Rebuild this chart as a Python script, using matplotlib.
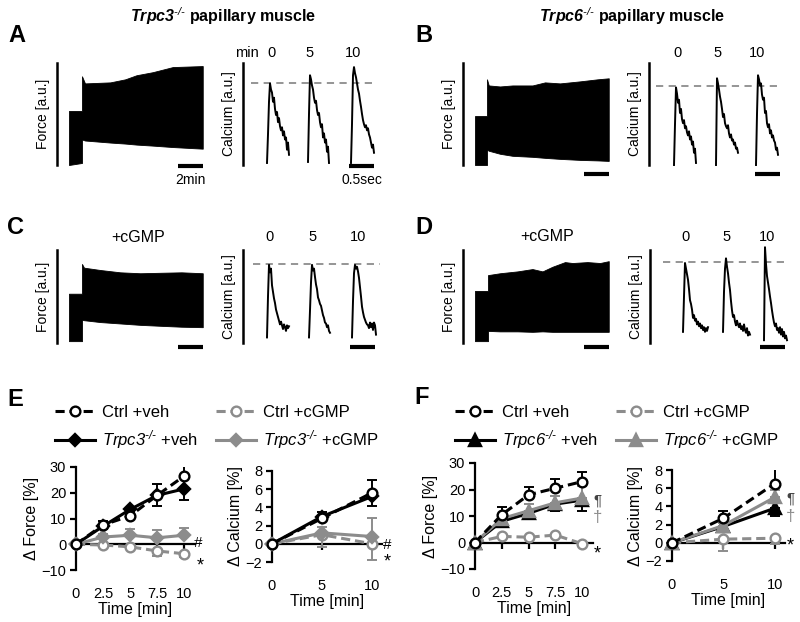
import matplotlib
matplotlib.use("Agg")
import matplotlib.pyplot as plt
import numpy as np

plt.rcParams["font.family"] = ["Liberation Sans", "DejaVu Sans"]
# math text is only used for the italic gene names, so every math font is italic
plt.rcParams["mathtext.fontset"] = "custom"
plt.rcParams["mathtext.rm"] = "Liberation Sans:italic"
plt.rcParams["mathtext.it"] = "Liberation Sans:italic"
plt.rcParams["mathtext.bf"] = "Liberation Sans:italic:bold"
plt.rcParams["mathtext.bfit"] = "Liberation Sans:italic:bold"

W, H = 800, 622
BLACK = "#000000"
GREY = "#8c8c8c"

# ---------------- raw force traces: envelope of twitches (min, % of scale) ----------
force_t_a = [0, 1.04, 1.04, 1.28, 3.3, 4.5, 5.4, 6.7, 8.3, 10.7]
force_hi_a = [53, 53, 87, 80, 81, 84, 88, 91, 96, 97]
force_lo_a = [0, 2, 25, 24, 22, 21, 20, 19, 17.6, 16]

force_t_b = [0, 0.96, 0.96, 1.1, 2.0, 3.0, 4.6, 5.6, 6.8, 8.4, 9.8, 10.7]
force_hi_b = [48, 48, 84, 78, 77, 78, 78, 81, 80, 82, 84, 85]
force_lo_b = [0, 0, 15, 14, 11, 9, 8, 7, 6, 5, 4.5, 4]

force_t_c = [0, 1.04, 1.04, 1.2, 2.5, 4.1, 5.7, 7.3, 9.0, 10.7]
force_hi_c = [53, 53, 85, 81, 78.5, 76, 75, 75.5, 76, 75]
force_lo_c = [2, 2, 25, 24.5, 22.5, 21, 19.5, 18.5, 17.5, 17]

force_t_d = [0, 1.04, 1.04, 2.0, 3.4, 4.6, 5.4, 6.2, 7.2, 7.8, 9.0, 10.0, 10.7]
force_hi_d = [56, 56, 73, 75, 77, 79.5, 77, 82, 87, 86, 87, 86, 88]
force_lo_d = [2, 2, 13, 12.5, 12.5, 12, 12.5, 12, 12, 12, 12, 12, 12]

# ---------------- calcium transients at 0, 5, 10 min (s, % of scale) ----------------
sample_t = [0.00, 0.02, 0.04, 0.06, 0.08, 0.10, 0.12, 0.14, 0.16, 0.18, 0.20, 0.22,
            0.24, 0.26, 0.28, 0.30, 0.32, 0.34, 0.36, 0.38, 0.40, 0.42, 0.44, 0.46,
            0.48, 0.50, 0.52, 0.54]

ca_a = [
    [2, 30, 62, 80, 74, 71, 62, 66, 55, 49, 52, 42, 46, 38, 34, 37, 29, 33, 25, 27, 15, 22, 10],
    [3, 50, 88, 84, 78, 74, 66, 61, 63, 54, 49, 51, 42, 37, 40, 27, 31, 22, 25, 13, 18, 2],
    [2, 40, 88, 96, 90, 86, 80, 74, 70, 63, 57, 50, 44, 40, 37, 39, 34, 36, 30, 27, 22, 17, 20, 12],
]
ca_b = [
    [0, 40, 76, 70, 61, 64, 51, 55, 45, 41, 44, 36, 38, 32, 29, 33, 25, 28, 20, 23, 12, 16, 2],
    [0, 85, 80, 74, 67, 62, 55, 47, 50, 41, 38, 36, 39, 31, 27, 30, 24, 25, 20, 22, 16, 17, 12],
    [0, 50, 88, 84, 78, 80, 69, 64, 66, 51, 53, 41, 37, 40, 31, 34, 27, 29, 24, 22, 15, 17, 10],
]
ca_c = [
    [6, 50, 84, 76, 80, 62, 55, 48, 43, 36, 32, 28, 24, 20, 23, 19, 15, 20, 17, 13, 19, 16, 18],
    [6, 35, 65, 84, 78, 80, 71, 63, 58, 49, 46, 42, 40, 35, 30, 27, 22, 21, 17, 19, 13, 11],
    [6, 45, 75, 84, 80, 82, 77, 70, 60, 50, 39, 33, 28, 25, 22, 20, 19, 16, 22, 17, 21, 14, 22, 19, 9],
]
ca_d = [
    [12, 50, 86, 80, 74, 68, 58, 46, 42, 36, 27, 30, 24, 26, 20, 23, 18, 21, 16, 19, 14, 17, 12, 16, 13, 17],
    [12, 55, 80, 91, 82, 75, 65, 57, 45, 35, 28, 30, 23, 19, 24, 20, 17, 21, 15, 18, 13, 20, 14, 11, 16, 8, 12, 9],
    [3, 103, 85, 72, 65, 58, 50, 43, 35, 28, 22, 18, 21, 14, 16, 11, 17, 9, 15, 7, 12, 5, 8, 3],
]
ca_minutes = ["0", "5", "10"]

# ---------------- summary data (mean, one-sided SEM) ----------------
time_force = [0, 2.5, 5, 7.5, 10]
time_ca = [0, 5, 10]
force_ticks = ["0", "2.5", "5", "7.5", "10"]
ca_ticks = ["0", "5", "10"]

# E: Trpc3
e_force_ctrl_veh = [0, 7.5, 11, 19, 26.5]
e_force_ctrl_veh_err = [0, 1.5, 2, 4.5, 6.5]
e_force_ko_veh = [0, 7, 13.5, 19, 21.5]
e_force_ko_veh_err = [0, 1, 1.5, 4, 4.5]
e_force_ctrl_cgmp = [0, -0.3, -1, -2.6, -3.7]
e_force_ctrl_cgmp_err = [0, 0.5, 1, 2, 1.2]
e_force_ko_cgmp = [0, 2.8, 3.5, 2.5, 3.5]
e_force_ko_cgmp_err = [0, 1, 2.5, 2.9, 3]

e_ca_ctrl_veh = [0, 2.8, 5.6]
e_ca_ctrl_veh_err = [0, 0.7, 1.4]
e_ca_ko_veh = [0, 3.0, 5.2]
e_ca_ko_veh_err = [0, 0.5, 1.1]
e_ca_ctrl_cgmp = [0, 1.0, 0.0]
e_ca_ctrl_cgmp_err = [0, 1.4, 1.8]
e_ca_ko_cgmp = [0, 1.2, 0.8]
e_ca_ko_cgmp_err = [0, 0.6, 2.0]

# F: Trpc6
f_force_ctrl_veh = [0, 10.5, 18, 20.5, 23]
f_force_ctrl_veh_err = [0, 2.8, 2.8, 3.5, 3.7]
f_force_ko_veh = [0, 8, 11, 14.5, 16]
f_force_ko_veh_err = [0, 1.5, 2, 2.5, 4]
f_force_ctrl_cgmp = [0, 2.3, 2.0, 2.8, -0.5]
f_force_ctrl_cgmp_err = [0, 0.5, 0.5, 0.5, 0.5]
f_force_ko_cgmp = [0, 9, 12, 15, 16.8]
f_force_ko_cgmp_err = [0, 1, 2.5, 2.5, 4.5]

f_ca_ctrl_veh = [0, 2.7, 6.5]
f_ca_ctrl_veh_err = [0, 0.8, 2.0]
f_ca_ko_veh = [0, 1.8, 3.8]
f_ca_ko_veh_err = [0, 0.3, 0.9]
f_ca_ctrl_cgmp = [0, 0.4, 0.5]
f_ca_ctrl_cgmp_err = [0, 1.3, 0.6]
f_ca_ko_cgmp = [0, 1.9, 5.0]
f_ca_ko_cgmp_err = [0, 0.3, 0.8]


def px_axes(fig, left, top, width, height):
    return fig.add_axes([left / W, 1 - (top + height) / H, width / W, height / H])


def trace_axes(fig, spine_x, spine_top, spine_bot, x0, px_per_x, ylabel, width=160):
    sy = (spine_bot - spine_top) / 100.0
    top, bot = spine_top - 30, spine_bot + 30
    ax = px_axes(fig, spine_x, top, width, bot - top)
    ax.set_xlim(x0, x0 + width / px_per_x)
    ax.set_ylim(-(bot - spine_bot) / sy, 100 + (spine_top - top) / sy)
    for s in ("top", "right", "bottom"):
        ax.spines[s].set_visible(False)
    ax.spines["left"].set_bounds(0, 100)
    ax.spines["left"].set_linewidth(1.8)
    ax.set_xticks([])
    ax.set_yticks([])
    ax.patch.set_visible(False)
    ax.set_ylabel(ylabel, fontsize=10, labelpad=5)
    return ax


def force_panel(fig, spine_x, spine_top, spine_bot, t, hi, lo, bar_y):
    ax = trace_axes(fig, spine_x, spine_top, spine_bot, -0.96, 12.5, "Force [a.u.]")
    ax.fill_between(t, lo, hi, color=BLACK, lw=0.6, edgecolor=BLACK)
    ax.plot([8.72, 10.72], [bar_y, bar_y], color=BLACK, lw=3, solid_capstyle="butt")
    return ax


def calcium_panel(fig, spine_x, spine_top, spine_bot, traces, onsets, level, span,
                  label_y, label_x, bar_x, bar_y):
    ax = trace_axes(fig, spine_x, spine_top, spine_bot, 0, 50, "Calcium [a.u.]", width=150)
    ax.plot(span, [level, level], color=GREY, lw=1.3, dashes=(4, 3))
    for on, v in zip(onsets, traces):
        t = np.array(sample_t[:len(v)]) + on
        ax.plot(t, v, color=BLACK, lw=1.4)
    for x, s in zip(label_x, ca_minutes):
        ax.text(x, label_y, s, fontsize=10.5, ha="center", va="center")
    ax.plot([bar_x, bar_x + 0.5], [bar_y, bar_y], color=BLACK, lw=3, solid_capstyle="butt")
    return ax


def stat_axes(fig, left, top, width, height, ylim, yticks, xticks, xlabels, ylabel):
    ax = px_axes(fig, left, top, width, height)
    ax.set_xlim(0, 11)
    ax.set_ylim(*ylim)
    for s in ("top", "right", "bottom"):
        ax.spines[s].set_visible(False)
    ax.spines["left"].set_linewidth(1.6)
    ax.set_yticks(yticks)
    ax.tick_params(axis="y", direction="out", length=4, width=1.6, labelsize=10.5, pad=3)
    ax.set_xticks(xticks)
    ax.set_xticklabels(xlabels)
    ax.tick_params(axis="x", length=0, pad=12, labelsize=10.5)
    zero = -ylim[0] / (ylim[1] - ylim[0])
    sec = ax.secondary_xaxis(zero)
    sec.set_xticks(xticks)
    sec.tick_params(axis="x", direction="out", length=4, width=1.6,
                    labelbottom=False, labeltop=False)
    sec.spines["bottom"].set_linewidth(1.6)
    ax.set_ylabel(ylabel, fontsize=11.5, labelpad=2)
    ax.set_xlabel("Time [min]", fontsize=11.5, labelpad=1)
    ax.patch.set_visible(False)
    return ax


def series(ax, x, y, err, up, color, dashed, marker, filled, ms, label, z):
    err = np.array(err, dtype=float)
    zeros = np.zeros_like(err)
    yerr = [zeros, err] if up else [err, zeros]
    ax.errorbar(x, y, yerr=yerr, fmt="none", ecolor=color, elinewidth=1.4,
                capsize=3.5, capthick=1.4, zorder=z)
    line, = ax.plot(x, y, color=color, lw=2.2, marker=marker, ms=ms,
                    mfc=color if filled else "white", mec=color, mew=1.7,
                    zorder=z + 0.5, label=label, clip_on=False)
    if dashed:
        line.set_dashes((3.0, 1.6))
    return line


fig = plt.figure(figsize=(W / 100, H / 100), dpi=100)

# ---------------- top traces ----------------
ax = force_panel(fig, 57, 63, 165, force_t_a, force_hi_a, force_lo_a, -1)
ax.text(9.72, -14.7, "2min", fontsize=10, ha="center", va="center")
cal = calcium_panel(fig, 243, 63, 165, ca_a, [0.48, 1.30, 2.16], 80.4, [0.16, 2.68],
                    110, [0.58, 1.34, 2.20], 2.12, -1)
cal.text(0.08, 110, "min", fontsize=10.5, ha="center", va="center")
cal.text(2.38, -14.7, "0.5sec", fontsize=10, ha="center", va="center")

force_panel(fig, 463, 63, 165, force_t_b, force_hi_b, force_lo_b, -8.8)
calcium_panel(fig, 649, 63, 165, ca_b, [0.50, 1.34, 2.14], 77.5, [0.14, 2.66],
              110, [0.56, 1.38, 2.16], 2.12, -8.8)

axc = force_panel(fig, 57, 250, 343, force_t_c, force_hi_c, force_lo_c, -4.3)
axc.text(5.52, 113, "+cGMP", fontsize=11.5, ha="center", va="center")
calcium_panel(fig, 243, 250, 343, ca_c, [0.48, 1.32, 2.18], 85, [0.2, 2.74],
              114, [0.54, 1.40, 2.30], 2.14, -4.3)

axd = force_panel(fig, 463, 250, 343, force_t_d, force_hi_d, force_lo_d, -4.3)
axd.text(5.76, 114, "+cGMP", fontsize=11.5, ha="center", va="center")
calcium_panel(fig, 650, 250, 343, ca_d, [0.66, 1.46, 2.28], 87, [0.26, 2.74],
              114, [0.70, 1.54, 2.34], 2.20, -4.3)

# ---------------- summary panels ----------------
ko3 = "$\\mathit{Trpc3}^{\\mathit{\u2010/\u2010}}$"
ko6 = "$\\mathit{Trpc6}^{\\mathit{\u2010/\u2010}}$"


def summary(fig, ax_f, ax_c, d, ko, marker, legend_x):
    (ff_cv, ff_cv_e, ff_kv, ff_kv_e, ff_cc, ff_cc_e, ff_kc, ff_kc_e,
     fc_cv, fc_cv_e, fc_kv, fc_kv_e, fc_cc, fc_cc_e, fc_kc, fc_kc_e) = d
    ms_ko = 6.5 if marker == "D" else 8
    handles = []
    for ax, x, vals in ((ax_f, time_force, (ff_cv, ff_cv_e, ff_kv, ff_kv_e, ff_cc, ff_cc_e, ff_kc, ff_kc_e)),
                        (ax_c, time_ca, (fc_cv, fc_cv_e, fc_kv, fc_kv_e, fc_cc, fc_cc_e, fc_kc, fc_kc_e))):
        cv, cve, kv, kve, cc, cce, kc, kce = vals
        h_cc = series(ax, x, cc, cce, False, GREY, True, "o", False, 7, "Ctrl +cGMP", 2)
        h_kv = series(ax, x, kv, kve, False, BLACK, False, marker, True, ms_ko, ko + " +veh", 3)
        h_kc = series(ax, x, kc, kce, True, GREY, False, marker, True, ms_ko, ko + " +cGMP", 4)
        h_cv = series(ax, x, cv, cve, True, BLACK, True, "o", False, 7, "Ctrl +veh", 5)
        handles = [h_cv, h_kv, h_cc, h_kc]
    fig.legend(handles=handles, loc="upper left", bbox_to_anchor=(legend_x / W, 1 - 405 / H),
               ncol=2, frameon=False, fontsize=12, handlelength=2.4, handletextpad=0.4,
               columnspacing=1.1, labelspacing=0.5, borderaxespad=0, borderpad=0,
               numpoints=1)


axe_f = stat_axes(fig, 76, 467, 119, 103, (-10, 30), [-10, 0, 10, 20, 30],
                  time_force, force_ticks, "Δ Force [%]")
axe_c = stat_axes(fig, 272, 471, 110, 91, (-2, 8), [-2, 0, 2, 4, 6, 8],
                  time_ca, ca_ticks, "Δ Calcium [%]")
summary(fig, axe_f, axe_c,
        (e_force_ctrl_veh, e_force_ctrl_veh_err, e_force_ko_veh, e_force_ko_veh_err,
         e_force_ctrl_cgmp, e_force_ctrl_cgmp_err, e_force_ko_cgmp, e_force_ko_cgmp_err,
         e_ca_ctrl_veh, e_ca_ctrl_veh_err, e_ca_ko_veh, e_ca_ko_veh_err,
         e_ca_ctrl_cgmp, e_ca_ctrl_cgmp_err, e_ca_ko_cgmp, e_ca_ko_cgmp_err),
        ko3, "D", 55)
axe_f.text(11.3, 0.3, "#", fontsize=11, ha="center", va="center")
axe_f.text(11.5, -8.5, "*", fontsize=13, ha="center", va="center")
axe_c.text(11.5, -0.1, "#", fontsize=11, ha="center", va="center")
axe_c.text(11.5, -2.0, "*", fontsize=13, ha="center", va="center")

axf_f = stat_axes(fig, 475, 463, 118, 106, (-10, 30), [-10, 0, 10, 20, 30],
                  time_force, force_ticks, "Δ Force [%]")
axf_c = stat_axes(fig, 672, 470, 113, 91, (-2, 8), [-2, 0, 2, 4, 6, 8],
                  time_ca, ca_ticks, "Δ Calcium [%]")
summary(fig, axf_f, axf_c,
        (f_force_ctrl_veh, f_force_ctrl_veh_err, f_force_ko_veh, f_force_ko_veh_err,
         f_force_ctrl_cgmp, f_force_ctrl_cgmp_err, f_force_ko_cgmp, f_force_ko_cgmp_err,
         f_ca_ctrl_veh, f_ca_ctrl_veh_err, f_ca_ko_veh, f_ca_ko_veh_err,
         f_ca_ctrl_cgmp, f_ca_ctrl_cgmp_err, f_ca_ko_cgmp, f_ca_ko_cgmp_err),
        ko6, "^", 455)
axf_f.text(11.4, 16, "¶", fontsize=11, ha="center", va="center", color="#444444")
axf_f.text(11.4, 9.5, "†", fontsize=12, ha="center", va="center", color=GREY)
axf_f.text(11.4, -4.5, "*", fontsize=13, ha="center", va="center")
axf_c.text(11.5, 4.9, "¶", fontsize=11, ha="center", va="center", color="#444444")
axf_c.text(11.5, 2.9, "†", fontsize=12, ha="center", va="center", color=GREY)
axf_c.text(11.5, -0.3, "*", fontsize=13, ha="center", va="center")

# ---------------- titles and panel letters ----------------
fig.text(223 / W, 1 - 16 / H, "$\\mathbfit{Trpc3}^{\\mathit{\u2010/\u2010}}$ papillary muscle",
         fontsize=11.5, fontweight="bold", ha="center", va="center")
fig.text(632 / W, 1 - 16 / H, "$\\mathbfit{Trpc6}^{\\mathit{\u2010/\u2010}}$ papillary muscle",
         fontsize=11.5, fontweight="bold", ha="center", va="center")
for letter, x, y in (("A", 17, 35), ("B", 424, 35), ("C", 16, 228), ("D", 424, 228),
                     ("E", 15, 400), ("F", 422, 398)):
    fig.text(x / W, 1 - y / H, letter, fontsize=17, fontweight="bold", ha="center", va="center")

fig.savefig("out.png", dpi=100)
